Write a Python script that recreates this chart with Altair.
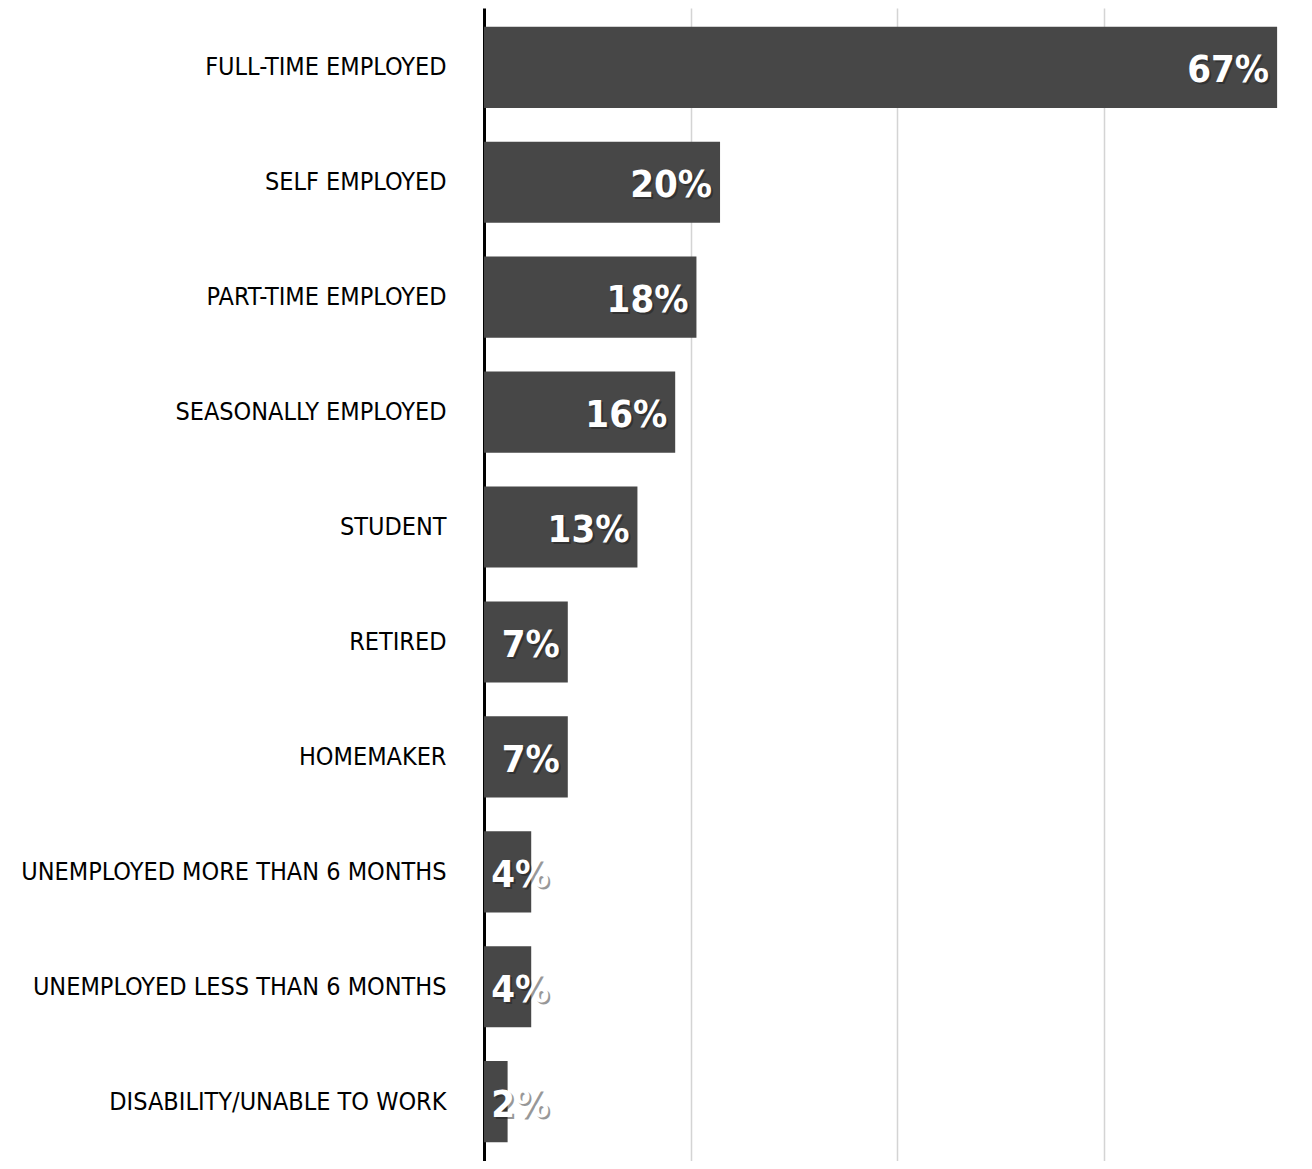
import altair as alt
import pandas as pd

categories = [
    "Full-time employed",
    "Self employed",
    "Part-time employed",
    "Seasonally employed",
    "Student",
    "Retired",
    "Homemaker",
    "Unemployed more than 6 months",
    "Unemployed less than 6 months",
    "Disability/unable to work",
]
values = [0.672, 0.20, 0.18, 0.162, 0.13, 0.071, 0.071, 0.04, 0.04, 0.02]
value_labels = ["67%", "20%", "18%", "16%", "13%", "7%", "7%", "4%", "4%", "2%"]
grid_values = [0.175, 0.35, 0.525]

df = pd.DataFrame({"category": categories, "value": values, "label": value_labels})

FONT = "DejaVu Sans Condensed, DejaVu Sans, sans-serif"

y_enc = alt.Y(
    "category:N",
    sort=categories,
    scale=alt.Scale(paddingInner=0.294, paddingOuter=0.163),
    axis=alt.Axis(
        title=None,
        labelExpr="upper(datum.label)",
        labelFont=FONT,
        labelFontSize=25,
        labelColor="black",
        labelPadding=38,
        labelLimit=480,
        ticks=False,
        domainColor="black",
        domainWidth=3,
        grid=False,
    ),
)

x_scale = alt.Scale(domain=[0, 0.688], nice=False, zero=True)

bars = alt.Chart(df).mark_bar(color="#474747").encode(
    x=alt.X(
        "value:Q",
        scale=x_scale,
        axis=alt.Axis(
            title=None,
            labels=False,
            ticks=False,
            domain=False,
            values=grid_values,
            gridColor="#d4d4d4",
            gridWidth=1.5,
        ),
    ),
    y=y_enc,
)

base_text = alt.Chart(df).transform_calculate(lx="max(datum.value, 0.062)")

shadow = base_text.mark_text(
    align="right", baseline="middle", dx=-6, dy=6, fontSize=38,
    font=FONT, fontWeight="bold", color="#1a1a1a", opacity=0.45,
).encode(
    x=alt.X("lx:Q", scale=x_scale),
    y=alt.Y("category:N", sort=categories),
    text="label:N",
)

txt = base_text.mark_text(
    align="right", baseline="middle", dx=-8, dy=4, fontSize=38,
    font=FONT, fontWeight="bold", color="white",
).encode(
    x=alt.X("lx:Q", scale=x_scale),
    y=alt.Y("category:N", sort=categories),
    text="label:N",
)

chart = (
    alt.layer(bars, shadow, txt)
    .properties(
        width=812,
        height=1153,
        autosize=alt.AutoSizeParams(type="none"),
        padding={"left": 476, "top": 0, "right": 0, "bottom": 0},
        background="white",
    )
    .configure_view(stroke=None)
)

chart.save("out.html", embed_options={"renderer": "svg", "actions": False})
